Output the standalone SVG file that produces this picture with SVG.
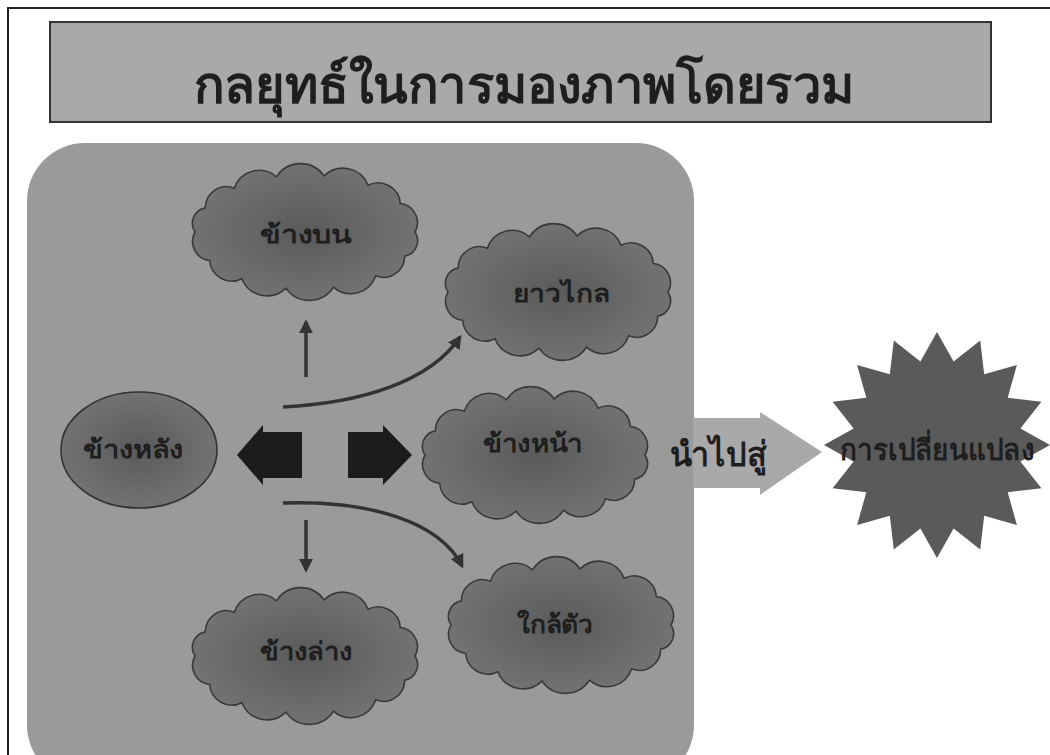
<svg xmlns="http://www.w3.org/2000/svg" width="1050" height="755" viewBox="0 0 1050 755">
<style>
.lbl{font-family:"Noto Sans","DejaVu Sans",sans-serif;font-weight:bold;fill:#1e1e1e;text-anchor:middle}
.cloud{fill:url(#cg);stroke:#3a3a3a;stroke-width:1.6}
.conn{fill:none;stroke:#333;stroke-width:3.5}
.blk{fill:#1c1c1c}
</style>
<defs>
<radialGradient id="cg" cx="0.5" cy="0.5" r="0.6">
<stop offset="0" stop-color="#5a5a5a"/>
<stop offset="1" stop-color="#777777"/>
</radialGradient>
<marker id="ah" viewBox="0 0 10 10" refX="8" refY="5" markerWidth="4" markerHeight="5" orient="auto" markerUnits="strokeWidth">
<path d="M0,0 L10,5 L0,10 Z" fill="#333"/>
</marker>
<path id="cl" d="M110,0 A15.7,15.7 0 0 1 99.7,24.1 A21,21 0 0 1 70.7,43.7 A26.2,26.2 0 0 1 28.5,55.1 A28.6,28.6 0 0 1 -19.1,56.1 A27,27 0 0 1 -63.1,46.7 A22.2,22.2 0 0 1 -95.3,28.5 A19.2,19.2 0 0 1 -110,0 A15.7,15.7 0 0 1 -99.7,-24.1 A21,21 0 0 1 -70.7,-43.7 A26.2,26.2 0 0 1 -28.5,-55.1 A28.6,28.6 0 0 1 19.1,-56.1 A27,27 0 0 1 63.1,-46.7 A22.2,22.2 0 0 1 95.3,-28.5 A19.2,19.2 0 0 1 110,0 Z"/>
</defs>
<rect width="1050" height="755" fill="#ffffff"/>
<path d="M8,755 L8,8 L1050,8" fill="none" stroke="#222" stroke-width="2"/>
<g id="title">
<rect x="50" y="22" width="941" height="100" fill="#a9a9a9" stroke="#333" stroke-width="2"/>
<text class="lbl" x="524" y="103" font-size="52" fill="#111" textLength="660" lengthAdjust="spacingAndGlyphs">กลยุทธ์ในการมองภาพโดยรวม</text>
</g>
<g id="panel">
<rect x="27" y="143" width="667" height="640" rx="58" ry="58" fill="#9a9a9a"/>
</g>
<g id="lead-arrow">
<polygon points="693,418 760,418 760,412 822,452 760,495 760,488 693,488" fill="#a9a9a9"/>
</g>
<g id="connectors">
<line class="conn" x1="306" y1="377" x2="306" y2="322" marker-end="url(#ah)"/>
<line class="conn" x1="306" y1="520" x2="306" y2="570" marker-end="url(#ah)"/>
<path class="conn" d="M283,407 C360,403 430,382 460,337" marker-end="url(#ah)"/>
<path class="conn" d="M283,503 C370,500 440,522 462,566" marker-end="url(#ah)"/>
</g>
<g id="back">
<ellipse cx="139" cy="450" rx="78" ry="58" fill="url(#cg)" stroke="#333" stroke-width="1.6"/>
<text class="lbl" x="133" y="458" font-size="25" textLength="100" lengthAdjust="spacingAndGlyphs">ข้างหลัง</text>
</g>
<g id="arrow-left">
<polygon class="blk" points="237,455 263,425 263,432 302,432 302,478 263,478 263,485"/>
</g>
<g id="arrow-right">
<polygon class="blk" points="412,455 383,425 383,432 348,432 348,478 383,478 383,485"/>
</g>
<g id="up">
<use href="#cl" class="cloud" transform="translate(305,232)"/>
<text class="lbl" x="306" y="243" font-size="25" textLength="92" lengthAdjust="spacingAndGlyphs">ข้างบน</text>
</g>
<g id="far">
<use href="#cl" class="cloud" transform="translate(558,292)"/>
<text class="lbl" x="561" y="302" font-size="25" textLength="97" lengthAdjust="spacingAndGlyphs">ยาวไกล</text>
</g>
<g id="front">
<use href="#cl" class="cloud" transform="translate(535,455)"/>
<text class="lbl" x="533" y="452" font-size="25" textLength="100" lengthAdjust="spacingAndGlyphs">ข้างหน้า</text>
</g>
<g id="near">
<use href="#cl" class="cloud" transform="translate(561,625)"/>
<text class="lbl" x="555" y="633" font-size="25" textLength="76" lengthAdjust="spacingAndGlyphs">ใกล้ตัว</text>
</g>
<g id="down">
<use href="#cl" class="cloud" transform="translate(305,656)"/>
<text class="lbl" x="306" y="660" font-size="25" textLength="92" lengthAdjust="spacingAndGlyphs">ข้างล่าง</text>
</g>
<g id="lead-label">
<text class="lbl" x="718" y="466" font-size="34" fill="#0a0a0a" textLength="97" lengthAdjust="spacingAndGlyphs">นำไปสู่</text>
</g>
<g id="change">
<polygon fill="#5a5a5a" points="937,332 953.6,361.6 980.2,340.6 984.2,374.3 1016.9,365.1 1007.7,397.8 1041.4,401.8 1020.4,428.4 1050,445 1020.4,461.6 1041.4,488.2 1007.7,492.2 1016.9,524.9 984.2,515.7 980.2,549.4 953.6,528.4 937,558 920.4,528.4 893.8,549.4 889.8,515.7 857.1,524.9 866.3,492.2 832.6,488.2 853.6,461.6 824,445 853.6,428.4 832.6,401.8 866.3,397.8 857.1,365.1 889.8,374.3 893.8,340.6 920.4,361.6"/>
<text class="lbl" x="840" y="460" font-size="29" fill="#0a0a0a" style="text-anchor:start" textLength="194" lengthAdjust="spacingAndGlyphs">การเปลี่ยนแปลง</text>
</g>
</svg>
